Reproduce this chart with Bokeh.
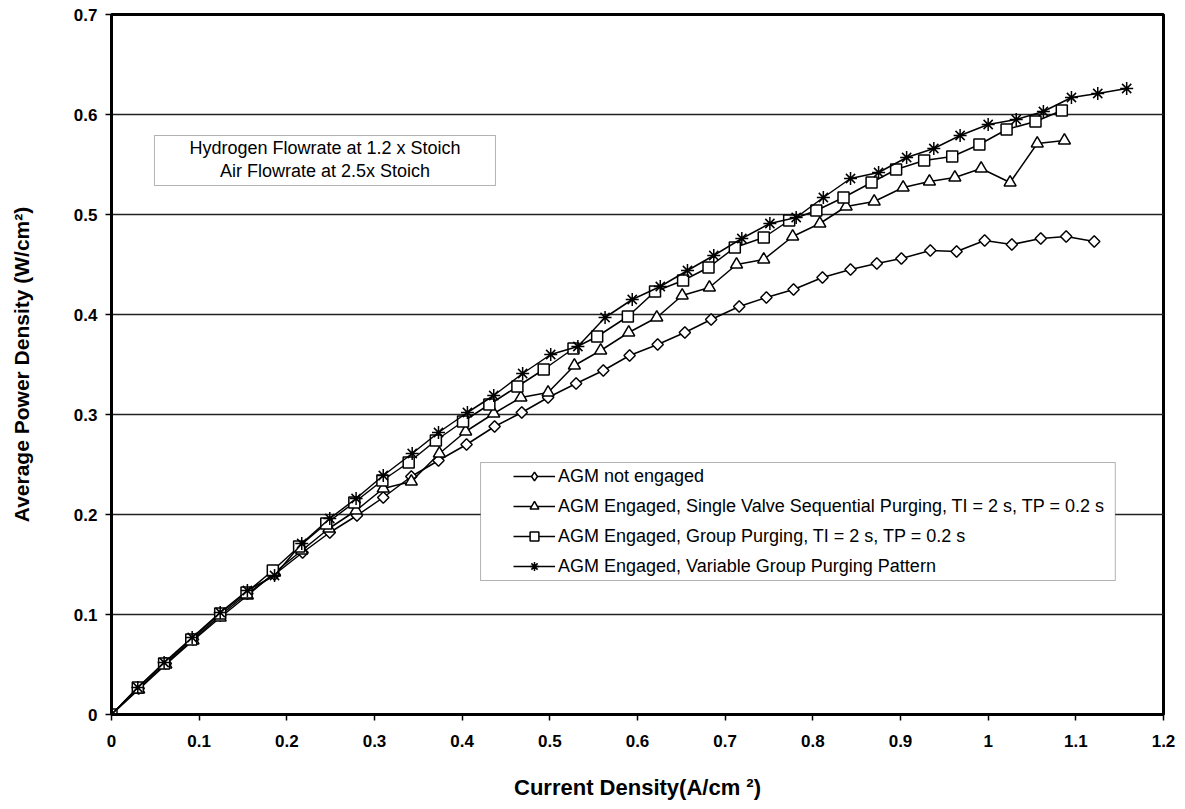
import math
from bokeh.plotting import figure
from bokeh.models import FixedTicker, Legend, LegendItem, BoxAnnotation, Label, Range1d
from bokeh.embed import file_html
from bokeh.resources import INLINE

# ---------------- data ----------------
x_ticks = [0, 0.1, 0.2, 0.3, 0.4, 0.5, 0.6, 0.7, 0.8, 0.9, 1.0, 1.1, 1.2]
x_tick_labels = ["0", "0.1", "0.2", "0.3", "0.4", "0.5", "0.6", "0.7", "0.8", "0.9", "1", "1.1", "1.2"]
y_ticks = [0, 0.1, 0.2, 0.3, 0.4, 0.5, 0.6, 0.7]
y_tick_labels = ["0", "0.1", "0.2", "0.3", "0.4", "0.5", "0.6", "0.7"]

series_names = [
    "AGM not engaged",
    "AGM Engaged, Single Valve Sequential Purging, TI = 2 s, TP = 0.2 s",
    "AGM Engaged, Group Purging, TI = 2 s, TP = 0.2 s",
    "AGM Engaged, Variable Group Purging Pattern",
]

not_engaged_x = [0, 0.031, 0.062, 0.093, 0.124, 0.155, 0.186, 0.218, 0.249, 0.280, 0.310, 0.342, 0.373,
                 0.405, 0.437, 0.468, 0.498, 0.530, 0.561, 0.591, 0.623, 0.654, 0.684, 0.716, 0.747,
                 0.778, 0.811, 0.843, 0.873, 0.901, 0.934, 0.964, 0.996, 1.027, 1.060, 1.089, 1.121]
not_engaged_y = [0, 0.026, 0.051, 0.075, 0.099, 0.121, 0.140, 0.162, 0.182, 0.199, 0.217, 0.238, 0.254,
                 0.270, 0.288, 0.302, 0.317, 0.331, 0.344, 0.359, 0.370, 0.382, 0.395, 0.408, 0.417,
                 0.425, 0.437, 0.445, 0.451, 0.456, 0.464, 0.463, 0.474, 0.470, 0.476, 0.478, 0.473]

single_valve_x = [0, 0.031, 0.062, 0.093, 0.124, 0.155, 0.186, 0.217, 0.248, 0.279, 0.310, 0.342,
                  0.374, 0.404, 0.436, 0.467, 0.498, 0.528, 0.558, 0.590, 0.622, 0.651, 0.682, 0.713,
                  0.744, 0.777, 0.808, 0.838, 0.870, 0.903, 0.933, 0.962, 0.992, 1.025, 1.056, 1.087]
single_valve_y = [0, 0.025, 0.050, 0.074, 0.097, 0.119, 0.142, 0.164, 0.186, 0.204, 0.226, 0.233,
                  0.261, 0.283, 0.301, 0.317, 0.322, 0.349, 0.364, 0.382, 0.397, 0.419, 0.427, 0.450,
                  0.455, 0.478, 0.491, 0.508, 0.513, 0.527, 0.533, 0.537, 0.546, 0.532, 0.571, 0.574]

group_x = [0, 0.030, 0.060, 0.091, 0.124, 0.154, 0.184, 0.214, 0.245, 0.277, 0.309, 0.339,
           0.370, 0.401, 0.431, 0.463, 0.493, 0.527, 0.554, 0.589, 0.620, 0.652, 0.681, 0.711,
           0.744, 0.773, 0.804, 0.835, 0.867, 0.895, 0.927, 0.959, 0.990, 1.021, 1.054, 1.084]
group_y = [0, 0.027, 0.051, 0.075, 0.101, 0.122, 0.144, 0.168, 0.191, 0.212, 0.234, 0.252,
           0.274, 0.293, 0.310, 0.328, 0.345, 0.366, 0.378, 0.398, 0.423, 0.434, 0.447, 0.467,
           0.477, 0.494, 0.504, 0.517, 0.532, 0.545, 0.554, 0.558, 0.570, 0.585, 0.593, 0.604]

variable_x = [0, 0.030, 0.060, 0.092, 0.124, 0.155, 0.186, 0.217, 0.249, 0.279, 0.310, 0.343,
              0.373, 0.406, 0.436, 0.469, 0.501, 0.532, 0.563, 0.594, 0.626, 0.657, 0.687, 0.719,
              0.751, 0.781, 0.812, 0.843, 0.875, 0.907, 0.938, 0.968, 1.000, 1.032, 1.063, 1.095,
              1.125, 1.158]
variable_y = [0, 0.027, 0.052, 0.077, 0.102, 0.124, 0.139, 0.171, 0.196, 0.216, 0.239, 0.261,
              0.282, 0.302, 0.319, 0.341, 0.360, 0.368, 0.397, 0.415, 0.428, 0.444, 0.459, 0.476,
              0.491, 0.497, 0.517, 0.536, 0.542, 0.557, 0.566, 0.579, 0.590, 0.595, 0.603, 0.617,
              0.621, 0.626]

note_lines = ["Hydrogen Flowrate at 1.2 x Stoich", "Air Flowrate at 2.5x Stoich"]

# ---------------- figure ----------------
FONT = "Liberation Sans"

p = figure(width=1185, height=809, output_backend="svg", toolbar_location=None,
           x_range=Range1d(0, 1.2), y_range=Range1d(0, 0.7),
           min_border_left=111, min_border_right=22, min_border_top=14, min_border_bottom=95,
           background_fill_color="white", border_fill_color="white")

p.outline_line_color = "black"
p.outline_line_width = 3
p.outline_line_alpha = 1

p.xgrid.visible = False
p.ygrid.grid_line_color = "#222222"
p.ygrid.grid_line_width = 1.5
p.ygrid.ticker = FixedTicker(ticks=y_ticks)

p.xaxis.ticker = FixedTicker(ticks=x_ticks)
p.yaxis.ticker = FixedTicker(ticks=y_ticks)
p.xaxis.major_label_overrides = dict(zip(x_ticks, x_tick_labels))
p.yaxis.major_label_overrides = dict(zip(y_ticks, y_tick_labels))

for ax in (p.xaxis[0], p.yaxis[0]):
    ax.axis_line_color = "black"
    ax.axis_line_width = 3
    ax.major_tick_line_color = "black"
    ax.major_tick_line_width = 1.5
    ax.major_tick_in = 0
    ax.major_tick_out = 6
    ax.minor_tick_line_color = None
    ax.major_label_text_font = FONT
    ax.major_label_text_font_style = "bold"
    ax.major_label_text_font_size = "17px"
    ax.major_label_text_color = "black"
    ax.axis_label_text_font = FONT
    ax.axis_label_text_font_style = "bold"
    ax.axis_label_text_color = "black"

p.xaxis.axis_label_text_font_size = "22px"
p.yaxis.axis_label_text_font_size = "21px"
p.xaxis.axis_label = "Current Density(A/cm \u00b2)"
p.yaxis.axis_label = "Average Power Density (W/cm\u00b2)"
p.xaxis.major_label_standoff = 14
p.xaxis.axis_label_standoff = 25
p.yaxis.major_label_standoff = 8
p.yaxis.axis_label_standoff = 38

# ---------------- series ----------------
LW = 1.5
l1 = p.line(not_engaged_x, not_engaged_y, line_color="black", line_width=LW)
m1 = p.scatter(not_engaged_x, not_engaged_y, marker="square", angle=math.pi / 4, size=8,
               fill_color="white", line_color="black", line_width=1.5)
l2 = p.line(single_valve_x, single_valve_y, line_color="black", line_width=LW)
m2 = p.scatter(single_valve_x, single_valve_y, marker="triangle", size=12,
               fill_color="white", line_color="black", line_width=1.5)
l3 = p.line(group_x, group_y, line_color="black", line_width=LW)
m3 = p.scatter(group_x, group_y, marker="square", size=11,
               fill_color="white", line_color="black", line_width=1.5)
l4 = p.line(variable_x, variable_y, line_color="black", line_width=LW)
m4 = p.scatter(variable_x, variable_y, marker="asterisk", size=13,
               line_color="black", line_width=1.5)
# legend-only glyph for the diamond symbol (not drawn in the plot area)
legend_diamond = p.scatter(x=[math.nan], y=[math.nan], marker="diamond", size=13,
                           fill_color="white", line_color="black", line_width=1.5)

# ---------------- note box ----------------
note_box = BoxAnnotation(left=0.049, right=0.438, top=0.579, bottom=0.529,
                         fill_color="white", fill_alpha=1, line_color="black", line_width=1)
p.add_layout(note_box)
for i, t in enumerate(note_lines):
    p.add_layout(Label(x=0.2436, y=0.567 - 0.023 * i, text=t, text_align="center",
                       text_baseline="middle", text_font=FONT, text_font_size="18px",
                       text_color="black"))

# ---------------- legend ----------------
legend_box = BoxAnnotation(left=0.421, right=1.145, top=0.252, bottom=0.134,
                           fill_color="white", fill_alpha=1, line_color="black", line_width=1)
p.add_layout(legend_box)

legend = Legend(items=[
    LegendItem(label=series_names[0], renderers=[l1, legend_diamond]),
    LegendItem(label=series_names[1], renderers=[l2, m2]),
    LegendItem(label=series_names[2], renderers=[l3, m3]),
    LegendItem(label=series_names[3], renderers=[l4, m4]),
], location=(402, 137))
legend.label_text_font = FONT
legend.label_text_font_size = "18px"
legend.label_text_color = "black"
legend.glyph_width = 42
legend.glyph_height = 22
legend.label_height = 22
legend.spacing = 8
legend.padding = 0
legend.margin = 0
legend.label_standoff = 3
legend.border_line_alpha = 0
legend.background_fill_alpha = 0
p.add_layout(legend)

open("out.html", "w").write(file_html(p, INLINE))
